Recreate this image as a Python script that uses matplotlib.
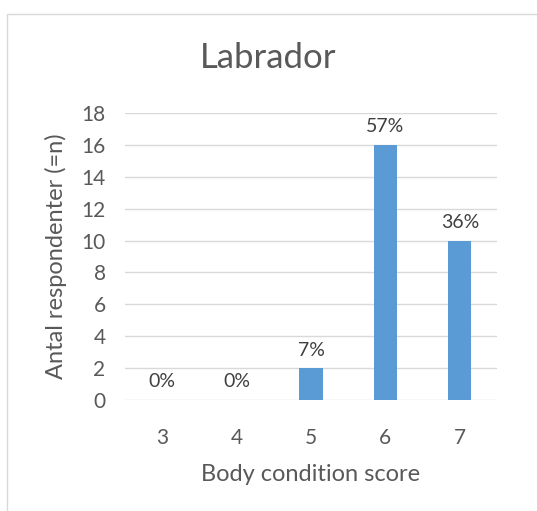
import matplotlib.pyplot as plt
from matplotlib.patches import Rectangle

scores = ['3', '4', '5', '6', '7']
counts = [0, 0, 2, 16, 10]
pct_labels = ['0%', '0%', '7%', '57%', '36%']

plt.rcParams['font.family'] = ['Lato', 'DejaVu Sans']
grey = '#595959'

fig = plt.figure(figsize=(5.37, 5.11), dpi=100)
ax = fig.add_axes([0.2328, 0.2172, 0.6927, 0.5617])

x = range(len(scores))
bars = ax.bar(x, counts, width=0.31, color='#5B9BD5', zorder=3)
for b, lab in zip(bars, pct_labels):
    ax.text(b.get_x() + b.get_width() / 2, b.get_height() + 0.6, lab,
            ha='center', va='bottom', fontsize=14, color='#404040')

ax.set_xlim(-0.5, 4.5)
ax.set_ylim(0, 18)
ax.set_yticks(range(0, 19, 2))
ax.set_xticks(list(x))
ax.set_xticklabels(scores)
ax.tick_params(length=0, labelsize=15, colors=grey)
ax.tick_params(axis='y', pad=14)
ax.tick_params(axis='x', pad=20)
ax.grid(axis='y', color='#D9D9D9', lw=1, zorder=0)
for s in ax.spines.values():
    s.set_visible(False)

ax.set_xlabel('Body condition score', fontsize=17, color=grey, labelpad=12)
ax.set_ylabel('Antal respondenter (=n)', fontsize=17, color=grey, labelpad=10)
fig.text(0.5, 0.886, 'Labrador', ha='center', va='center', fontsize=25, color=grey)

fig.patches.append(Rectangle((7 / 537, -0.1), 1.2, 1 - 14 / 511 + 0.1,
                             transform=fig.transFigure, fill=False,
                             edgecolor='#D9D9D9', lw=1))

fig.savefig('out.png', dpi=100)
